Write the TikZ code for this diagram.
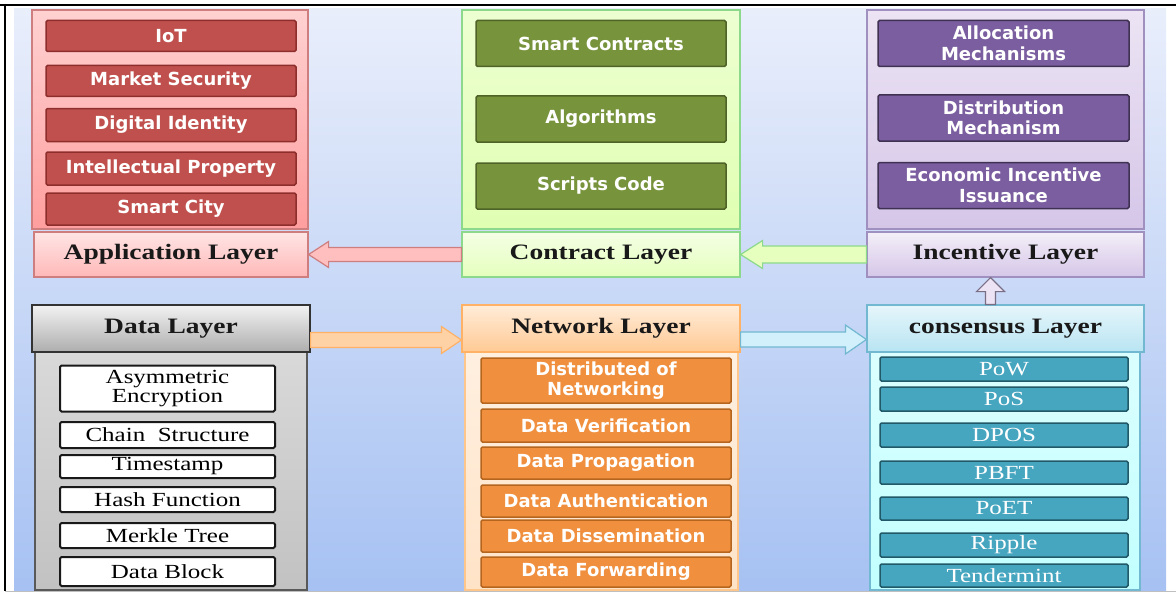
\documentclass[tikz,border=0pt]{standalone}
\usepackage{fontspec}
\setmainfont{Liberation Serif}
\newfontfamily\itemsans{DejaVu Sans}
\newfontfamily\wideserif[FakeStretch=1.25]{Liberation Serif}
\usetikzlibrary{calc}

% background and layer colours
\definecolor{bgtop}{HTML}{E9EEFB}
\definecolor{bgmid}{HTML}{C9D9F7}
\definecolor{bgbot}{HTML}{A6C1F2}
\definecolor{appitem}{HTML}{C0504D}
\definecolor{appline}{HTML}{8E2E2C}
\definecolor{conitem}{HTML}{77933C}
\definecolor{conline}{HTML}{4F6228}
\definecolor{incitem}{HTML}{7B5EA0}
\definecolor{incline}{HTML}{3F3151}
\definecolor{inctop}{HTML}{ECE4F4}
\definecolor{incbot}{HTML}{D5C6E8}
\definecolor{incedge}{HTML}{A090C0}
\definecolor{netitem}{HTML}{F0903F}
\definecolor{netline}{HTML}{B5651D}
\definecolor{cnsitem}{HTML}{46A5BF}
\definecolor{cnsline}{HTML}{215968}
\definecolor{cnstop}{HTML}{E6F6FB}
\definecolor{cnsbot}{HTML}{B8E4F2}
\definecolor{cnsedge}{HTML}{72B8D0}

% fat outlined arrow from tail #2 to tip #3 (half shaft, half head, head length)
\newcommand\fatarrow[6][]{%
  \draw[#1] let \p1=#2, \p2=#3, \n1={atan2(\y2-\y1,\x2-\x1)} in
    ($(\p1)+(\n1+90:#4pt)$) -- ($(\p2)+(\n1+180:#6pt)+(\n1+90:#4pt)$)
    -- ($(\p2)+(\n1+180:#6pt)+(\n1+90:#5pt)$) -- (\p2)
    -- ($(\p2)+(\n1+180:#6pt)+(\n1-90:#5pt)$) -- ($(\p2)+(\n1+180:#6pt)+(\n1-90:#4pt)$)
    -- ($(\p1)+(\n1-90:#4pt)$) -- cycle;}

\begin{document}
\begin{tikzpicture}[x=1pt,y=-1pt,
  layer/.style={draw, line width=1.2, text=black!90,
    font=\wideserif\bfseries\fontsize{22}{24}\selectfont, inner sep=0},
  sansitem/.style={draw, line width=1.5, rounded corners=1.5, text=white,
    font=\itemsans\bfseries\fontsize{18}{20.5}\selectfont, align=center, inner sep=0},
  serifitem/.style={draw, line width=1.5, rounded corners=1.5,
    font=\wideserif\fontsize{20}{19}\selectfont, align=center, inner sep=0}]
\useasboundingbox (0,0) rectangle (1176,594);

% frame and background
\shade[top color=bgtop, middle color=bgmid, bottom color=bgbot] (14,9) rectangle (1166,590);
\draw[line width=2.5] (0,5) -- (1176,5);
\draw[line width=2] (5,4) -- (5,591);
\draw[black!25, line width=1] (5,591) -- (1176,591);

% ---- top row: application, contract, incentive
\draw[line width=1.2, draw=red!45!gray!70, top color=red!18, bottom color=red!38] (32,10) rectangle (308,229);
\draw[line width=1.2, draw=green!50!gray!60, top color=green!40!yellow!18, bottom color=green!40!yellow!30] (462,10) rectangle (740,229);
\draw[line width=1.2, draw=incedge, top color=inctop, bottom color=incbot] (867,10) rectangle (1144,229);

\node[layer, draw=red!45!gray!70, top color=red!10, bottom color=red!28,
  minimum width=274, minimum height=45] (app) at (171,254.5) {Application Layer};
\node[layer, draw=green!50!gray!60, top color=green!40!yellow!10, bottom color=green!40!yellow!26,
  minimum width=278, minimum height=45] (con) at (601,254.5) {Contract Layer};
\node[layer, draw=incedge, top color=inctop!60, bottom color=incbot,
  minimum width=277, minimum height=45] (inc) at (1005.5,254.5) {Incentive Layer};

\node[sansitem, fill=appitem, draw=appline, minimum width=250, minimum height=31] (iot) at (171,36) {IoT};
\node[sansitem, fill=appitem, draw=appline, minimum width=250, minimum height=31] (mks) at (171,81) {Market Security};
\node[sansitem, fill=appitem, draw=appline, minimum width=250, minimum height=33] (did) at (171,125) {Digital Identity};
\node[sansitem, fill=appitem, draw=appline, minimum width=250, minimum height=33] (ipr) at (171,168.5) {Intellectual Property};
\node[sansitem, fill=appitem, draw=appline, minimum width=250, minimum height=32] (scy) at (171,209) {Smart City};

\node[sansitem, fill=conitem, draw=conline, minimum width=250, minimum height=46] (smc) at (601,43.5) {Smart Contracts};
\node[sansitem, fill=conitem, draw=conline, minimum width=250, minimum height=46] (alg) at (601,119) {Algorithms};
\node[sansitem, fill=conitem, draw=conline, minimum width=250, minimum height=46] (scc) at (601,186) {Scripts Code};

\node[sansitem, fill=incitem, draw=incline, minimum width=251, minimum height=46] (alm) at (1003.5,43.5) {Allocation\\Mechanisms};
\node[sansitem, fill=incitem, draw=incline, minimum width=251, minimum height=46] (dsm) at (1003.5,118) {Distribution\\Mechanism};
\node[sansitem, fill=incitem, draw=incline, minimum width=251, minimum height=46] (eci) at (1003.5,185.5) {Economic Incentive\\Issuance};

% ---- bottom row: data, network, consensus
\draw[line width=1.2, draw=black!65, top color=black!15, bottom color=black!24] (35,352) rectangle (307,590);
\draw[line width=1.2, draw=orange!45, top color=orange!12, bottom color=orange!22] (465,352) rectangle (738,590);
\draw[line width=1.2, draw=cnsedge, top color=cyan!14, bottom color=cyan!24] (870,352) rectangle (1140,590);

\node[layer, draw=black!80, top color=black!5, bottom color=black!32,
  minimum width=278, minimum height=47] (dat) at (171,328.5) {Data Layer};
\node[layer, draw=orange!60, top color=orange!15, bottom color=orange!42,
  minimum width=278, minimum height=47] (net) at (601,328.5) {Network Layer};
\node[layer, draw=cnsedge, top color=cnstop, bottom color=cnsbot,
  minimum width=277, minimum height=47] (cns) at (1005.5,328.5) {consensus Layer};

\node[serifitem, fill=white, draw=black!90, line width=2, minimum width=215, minimum height=46] (ase) at (167.5,388.5) {Asymmetric\\Encryption};
\node[serifitem, fill=white, draw=black!90, line width=2, minimum width=215, minimum height=26] (chs) at (167.5,435) {Chain~ Structure};
\node[serifitem, fill=white, draw=black!90, line width=2, minimum width=215, minimum height=23] (tms) at (167.5,466.5) {Timestamp};
\node[serifitem, fill=white, draw=black!90, line width=2, minimum width=215, minimum height=25] (hsf) at (167.5,499.5) {Hash Function};
\node[serifitem, fill=white, draw=black!90, line width=2, minimum width=215, minimum height=25] (mkt) at (167.5,535.5) {Merkle Tree};
\node[serifitem, fill=white, draw=black!90, line width=2, minimum width=215, minimum height=29] (dbk) at (167.5,571.5) {Data Block};

\node[sansitem, fill=netitem, draw=netline, minimum width=250, minimum height=45] (dnw) at (606,380.5) {Distributed of\\Networking};
\node[sansitem, fill=netitem, draw=netline, minimum width=250, minimum height=33] (dvf) at (606,425.5) {Data Verification};
\node[sansitem, fill=netitem, draw=netline, minimum width=250, minimum height=32] (dpr) at (606,463) {Data Propagation};
\node[sansitem, fill=netitem, draw=netline, minimum width=250, minimum height=32] (dau) at (606,501) {Data Authentication};
\node[sansitem, fill=netitem, draw=netline, minimum width=250, minimum height=32] (dds) at (606,536) {Data Dissemination};
\node[sansitem, fill=netitem, draw=netline, minimum width=250, minimum height=30] (dfw) at (606,572) {Data Forwarding};

\node[serifitem, fill=cnsitem, draw=cnsline, text=white, minimum width=248, minimum height=24] (pow) at (1004,369) {PoW};
\node[serifitem, fill=cnsitem, draw=cnsline, text=white, minimum width=248, minimum height=24] (pos) at (1004,399) {PoS};
\node[serifitem, fill=cnsitem, draw=cnsline, text=white, minimum width=248, minimum height=24] (dpos) at (1004,435) {DPOS};
\node[serifitem, fill=cnsitem, draw=cnsline, text=white, minimum width=248, minimum height=23] (pbft) at (1004,472.5) {PBFT};
\node[serifitem, fill=cnsitem, draw=cnsline, text=white, minimum width=248, minimum height=23] (poet) at (1004,508.5) {PoET};
\node[serifitem, fill=cnsitem, draw=cnsline, text=white, minimum width=248, minimum height=24] (rpl) at (1004,545) {Ripple};
\node[serifitem, fill=cnsitem, draw=cnsline, text=white, minimum width=248, minimum height=23] (tdm) at (1004,575.5) {Tendermint};

% ---- arrows between layers
\fatarrow[line width=1.2, draw=red!45!gray!70, fill=red!25]{(con.west)}{(app.east)}{7}{13}{20}
\fatarrow[line width=1.2, draw=green!50!gray!60, fill=green!40!yellow!25]{(inc.west)}{(con.east)}{8.5}{14}{22}
\fatarrow[line width=1.2, draw=orange!60, fill=orange!35]{($(dat.east)+(0,11.5)$)}{($(net.west)+(0,11.5)$)}{7.5}{13.5}{20}
\fatarrow[line width=1.2, draw=cnsedge, fill=cyan!18]{($(net.east)+(0,11)$)}{($(cns.west)+(0,11)$)}{7.5}{14.5}{21}
\fatarrow[line width=1.2, draw=incline!70, fill=inctop]{($(cns.north)+(-15,0)$)}{($(inc.south)+(-15,0)$)}{5}{14}{14}

\end{tikzpicture}
\end{document}
